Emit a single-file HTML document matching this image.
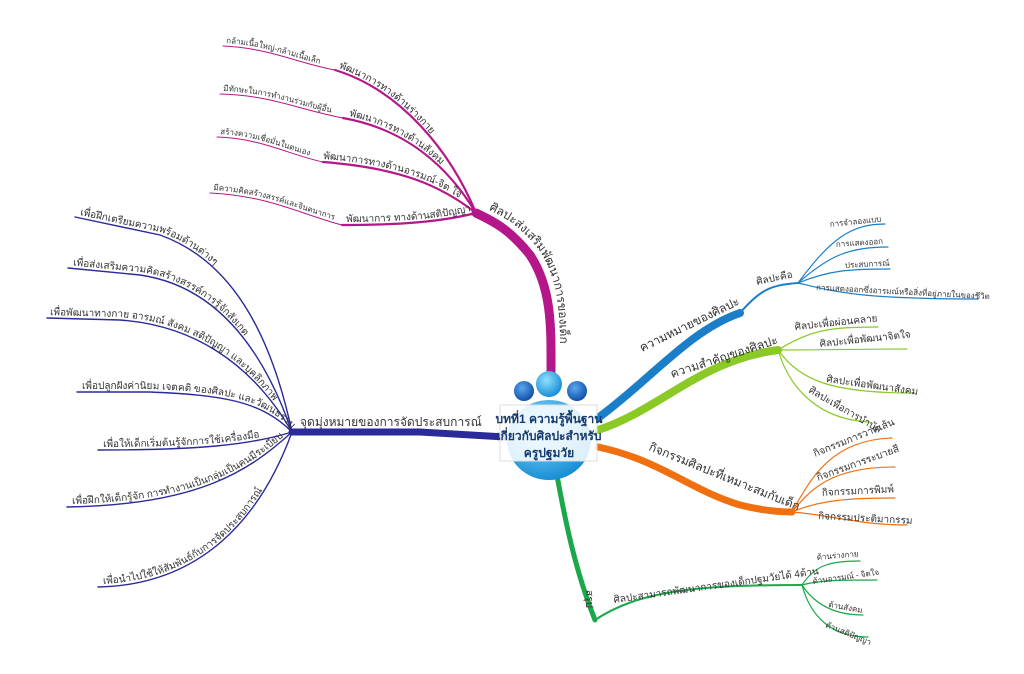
<!DOCTYPE html>
<html><head><meta charset="utf-8"><style>
html,body{margin:0;padding:0;background:#fff;}
svg{display:block;}
text{font-family:"Liberation Sans","DejaVu Sans",sans-serif;fill:#333;}
.s{font-size:8px;}
.m{font-size:10px;}
.b{font-size:12px;}
</style></head><body>
<svg width="1024" height="674" viewBox="0 0 1024 674" xmlns="http://www.w3.org/2000/svg">
<defs>
<radialGradient id="bl" cx="40%" cy="35%" r="65%"><stop offset="0" stop-color="#8fe0ff"/><stop offset="1" stop-color="#1a8fd6"/></radialGradient>
<radialGradient id="db" cx="40%" cy="35%" r="65%"><stop offset="0" stop-color="#5aa8f0"/><stop offset="1" stop-color="#1050a8"/></radialGradient>
<!-- magenta -->
<path id="mt" d="M476,213 C495,222 510,230 530,255 C553,290 551,330 551,380"/>
<path id="m1a" d="M223,46 C270,48 300,64 335,70"/><path id="m1b" d="M335,70 C400,90 450,150 476,213"/>
<path id="m2a" d="M220,94 C270,95 300,110 343,118"/><path id="m2b" d="M343,118 C410,130 450,170 476,213"/>
<path id="m3a" d="M217,137 C260,138 290,155 323,162"/><path id="m3b" d="M323,162 C400,168 440,185 476,213"/>
<path id="m4a" d="M210,193 C270,196 300,214 342,225"/><path id="m4b" d="M342,225 C400,225 440,222 476,213"/>
<!-- navy -->
<path id="n1" d="M75,217 L160,235 C230,260 270,330 292,432"/>
<path id="n2" d="M68,268 L140,275 C210,285 260,340 292,432"/>
<path id="n3" d="M47,318 L120,320 C190,325 250,360 292,432"/>
<path id="n4" d="M77,392 L150,392 C220,395 260,400 292,432"/>
<path id="n5" d="M98,450 C200,450 250,445 292,432"/>
<path id="n6" d="M67,507 C200,505 250,470 292,432"/>
<path id="n7" d="M98,587 C200,585 260,520 292,432"/>
</defs>
<g fill="none" stroke="#b5178a" stroke-linecap="round">
<use href="#mt" stroke-width="9"/>
<use href="#m1a" stroke-width="1"/><use href="#m1b" stroke-width="2.2"/>
<use href="#m2a" stroke-width="1"/><use href="#m2b" stroke-width="2.2"/>
<use href="#m3a" stroke-width="1"/><use href="#m3b" stroke-width="2.2"/>
<use href="#m4a" stroke-width="1"/><use href="#m4b" stroke-width="2.2"/>
</g>
<g transform="translate(0,-3)">
<text class="s"><textPath href="#m1a" startOffset="3">กล้ามเนื้อใหญ่-กล้ามเนื้อเล็ก</textPath></text>
<text class="s"><textPath href="#m2a" startOffset="3">มีทักษะในการทำงานร่วมกับผู้อื่น</textPath></text>
<text class="s"><textPath href="#m3a" startOffset="3">สร้างความเชื่อมั่นในตนเอง</textPath></text>
<text class="s"><textPath href="#m4a" startOffset="3">มีความคิดสร้างสรรค์และจินตนาการ</textPath></text>
<text class="m"><textPath href="#m1b" startOffset="4">พัฒนาการทางด้านร่างกาย</textPath></text>
<text class="m"><textPath href="#m2b" startOffset="6">พัฒนาการทางด้านสังคม</textPath></text>
<text class="m"><textPath href="#m3b" startOffset="0">พัฒนาการทางด้านอารมณ์-จิต ใจ</textPath></text>
<text class="m"><textPath href="#m4b" startOffset="4">พัฒนาการ ทางด้านสติปัญญา</textPath></text>
</g>
<text class="b" transform="translate(9,-5)"><textPath href="#mt" startOffset="4">ศิลปะส่งเสริมพัฒนาการของเด็ก</textPath></text>
<!-- navy left -->
<g fill="none" stroke="#2a2a9a" stroke-linecap="round">
<path d="M505,437 L420,432 L292,432" stroke-width="7"/>
<g stroke-width="1.4"><use href="#n1"/><use href="#n2"/><use href="#n3"/><use href="#n4"/><use href="#n5"/><use href="#n6"/><use href="#n7"/></g>
</g>
<text class="b" x="300" y="426">จุดมุ่งหมายของการจัดประสบการณ์</text>
<g transform="translate(0,-3)">
<text class="m"><textPath href="#n1" startOffset="5">เพื่อฝึกเตรียมความพร้อมด้านต่างๆ</textPath></text>
<text class="m"><textPath href="#n2" startOffset="5">เพื่อส่งเสริมความคิดสร้างสรรค์การรู้จักสังเกต</textPath></text>
<text class="m"><textPath href="#n3" startOffset="3">เพื่อพัฒนาทางกาย อารมณ์ สังคม สติปัญญา และบุคลิกภาพ</textPath></text>
<text class="m"><textPath href="#n4" startOffset="5">เพื่อปลูกฝังค่านิยม เจตคติ ของศิลปะ และวัฒนธรรม</textPath></text>
<text class="m"><textPath href="#n5" startOffset="5">เพื่อให้เด็กเริ่มต้นรู้จักการใช้เครื่องมือ</textPath></text>
<text class="m"><textPath href="#n6" startOffset="5">เพื่อฝึกให้เด็กรู้จัก การทำงานเป็นกลุ่มเป็นคนมีระเบียบ</textPath></text>
<text class="m"><textPath href="#n7" startOffset="5">เพื่อนำไปใช้ให้สัมพันธ์กับการจัดประสบการณ์</textPath></text>
</g>
<!-- right blue -->
<g fill="none" stroke="#1a7fc8" stroke-linecap="round">
<path d="M598,418 C650,380 690,330 740,313" stroke-width="8"/>
<path d="M740,313 C760,290 770,285 798,283" stroke-width="2"/>
<path d="M798,283 C830,240 850,224 885,224" stroke-width="1.2"/>
<path d="M798,283 C830,255 850,247 888,247" stroke-width="1.2"/>
<path d="M798,283 C830,270 850,269 890,269" stroke-width="1.2"/>
<path d="M798,283 C830,290 850,299 978,299" stroke-width="1.2"/>
</g>
<text class="b" x="642" y="352" transform="rotate(-26 642 352)">ความหมายของศิลปะ</text>
<text class="m" x="757" y="285" transform="rotate(-12 757 285)">ศิลปะคือ</text>
<text class="s" x="830" y="227" transform="rotate(-6 830 227)">การจำลองแบบ</text>
<text class="s" x="836" y="247" transform="rotate(-4 836 247)">การแสดงออก</text>
<text class="s" x="845" y="268" transform="rotate(-3 845 268)">ประสบการณ์</text>
<text class="s" x="816" y="290" transform="rotate(3 816 290)">การแสดงออกซึ่งอารมณ์หรือสิ่งที่อยู่ภายในของชีวิต</text>
<!-- light green -->
<g fill="none" stroke="#8ac926" stroke-linecap="round">
<path d="M598,430 C660,410 700,360 778,350" stroke-width="8"/>
<path d="M778,350 C810,330 830,327 878,327" stroke-width="1.2"/>
<path d="M778,350 C820,350 850,349 907,349" stroke-width="1.2"/>
<path d="M778,350 C800,380 830,393 913,393" stroke-width="1.2"/>
<path d="M778,350 C790,390 820,420 870,422" stroke-width="1.2"/>
</g>
<text class="b" x="672" y="378" transform="rotate(-18 672 378)">ความสำคัญของศิลปะ</text>
<text class="m" x="795" y="330" transform="rotate(-6 795 330)">ศิลปะเพื่อผ่อนคลาย</text>
<text class="m" x="820" y="347" transform="rotate(-6 820 347)">ศิลปะเพื่อพัฒนาจิตใจ</text>
<text class="m" x="826" y="382" transform="rotate(8 826 382)">ศิลปะเพื่อพัฒนาสังคม</text>
<text class="m" x="808" y="392" transform="rotate(30 808 392)">ศิลปะเพื่อการบำบัด</text>
<!-- orange -->
<g fill="none" stroke="#f07010" stroke-linecap="round">
<path d="M598,447 C660,460 690,490 740,505 C760,510 775,512 792,512" stroke-width="7"/>
<path d="M792,512 C810,480 830,440 892,438" stroke-width="1.2"/>
<path d="M792,512 C810,490 830,467 895,467" stroke-width="1.2"/>
<path d="M792,512 C820,500 850,498 895,498" stroke-width="1.2"/>
<path d="M792,512 C830,515 860,525 907,525" stroke-width="1.2"/>
</g>
<text class="b" x="648" y="450" transform="rotate(22 648 450)">กิจกรรมศิลปะที่เหมาะสมกับเด็ก</text>
<text class="m" x="815" y="457" transform="rotate(-22 815 457)">กิจกรรมการวาดเส้น</text>
<text class="m" x="818" y="481" transform="rotate(-20 818 481)">กิจกรรมการระบายสี</text>
<text class="m" x="822" y="496" transform="rotate(-3 822 496)">กิจกรรมการพิมพ์</text>
<text class="m" x="818" y="519" transform="rotate(3 818 519)">กิจกรรมประติมากรรม</text>
<!-- dark green -->
<g fill="none" stroke="#1aa84a" stroke-linecap="round">
<path d="M556,470 C565,520 575,570 595,620" stroke-width="5"/>
<path d="M595,620 C640,590 700,585 802,585" stroke-width="2"/>
<path d="M802,585 C815,565 830,561 860,561" stroke-width="1.2"/>
<path d="M802,585 C820,580 840,580 877,580" stroke-width="1.2"/>
<path d="M802,585 C815,605 835,615 863,615" stroke-width="1.2"/>
<path d="M802,585 C810,615 830,637 868,637" stroke-width="1.2"/>
</g>
<text class="m" x="586" y="590" transform="rotate(90 586 590)">สรุป</text>
<text class="m" x="614" y="603" transform="rotate(-8 614 603)">ศิลปะสามารถพัฒนาการของเด็กปฐมวัยได้ 4ด้าน</text>
<text class="s" x="817" y="560" transform="rotate(-5 817 560)">ด้านร่างกาย</text>
<text class="s" x="813" y="584" transform="rotate(-8 813 584)">ด้านอารมณ์ - จิตใจ</text>
<text class="s" x="828" y="607" transform="rotate(10 828 607)">ด้านสังคม</text>
<text class="s" x="825" y="627" transform="rotate(22 825 627)">ด้านสติปัญญา</text>
<!-- center -->
<ellipse cx="549" cy="440" rx="42" ry="40" fill="url(#bl)"/>
<circle cx="524" cy="391" r="10" fill="url(#db)"/>
<circle cx="577" cy="391" r="10" fill="url(#db)"/>
<circle cx="549" cy="384" r="13" fill="url(#bl)"/>
<rect x="500" y="405" width="97" height="56" fill="#ffffff" fill-opacity="0.85" stroke="#ddd"/>
<g font-weight="bold" font-size="12" text-anchor="middle">
<text x="549" y="423" style="fill:#173a6e">บทที่1 ความรู้พื้นฐาน</text>
<text x="549" y="440" style="fill:#173a6e">เกี่ยวกับศิลปะสำหรับ</text>
<text x="549" y="457" style="fill:#173a6e">ครูปฐมวัย</text>
</g>
</svg>
</body></html>
